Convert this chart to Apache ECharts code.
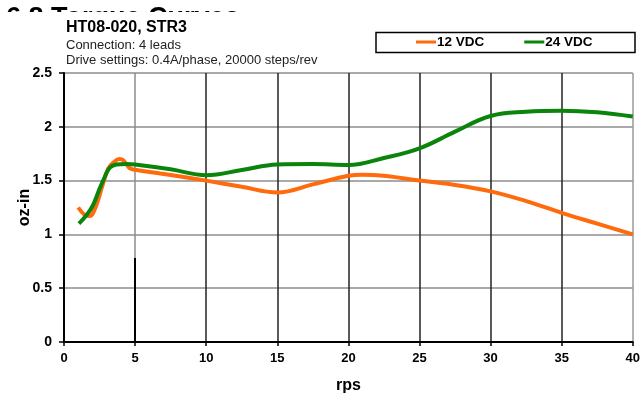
<!DOCTYPE html>
<html>
<head>
<meta charset="utf-8">
<script src="https://cdn.jsdelivr.net/npm/echarts@6/dist/echarts.min.js"></script>
<style>html,body{margin:0;padding:0;background:#fff;}#c{width:643px;height:400px;}</style>
</head>
<body>
<div id="c"></div>
<script>
const pageHeading = '6.8 Torque Curves';
const chartTitle = 'HT08-020, STR3';
const subLine1 = 'Connection: 4 leads';
const subLine2 = 'Drive settings: 0.4A/phase, 20000 steps/rev';
const seriesNames = ['12 VDC', '24 VDC'];
const xTicks = [0, 5, 10, 15, 20, 25, 30, 35, 40];
const yTicks = [0, 0.5, 1, 1.5, 2, 2.5];

const rps12 = [1, 1.47, 1.82, 2.05, 2.4, 2.75, 3.1, 3.45, 3.92, 4.15, 4.43, 4.62, 5, 7.5, 10, 12.5, 15, 17.5, 20, 21, 22.5, 25, 27.5, 30, 32.5, 35, 37.5, 40];
const torque12 = [1.25, 1.18, 1.17, 1.2, 1.32, 1.475, 1.61, 1.665, 1.70, 1.69, 1.645, 1.615, 1.6, 1.552, 1.5, 1.443, 1.39, 1.465, 1.545, 1.555, 1.545, 1.5, 1.46, 1.4, 1.31, 1.2, 1.1, 1.0];

const rps24 = [1.05, 1.59, 2.05, 2.52, 2.87, 3.22, 3.69, 4.39, 5, 7.5, 10, 12.5, 15, 17.5, 20, 22.5, 25, 27.5, 30, 32.5, 35, 37.5, 40];
const torque24 = [1.1, 1.18, 1.275, 1.43, 1.535, 1.62, 1.65, 1.655, 1.65, 1.605, 1.55, 1.598, 1.65, 1.654, 1.645, 1.71, 1.8, 1.955, 2.1, 2.14, 2.15, 2.135, 2.095];

// short dark segment drawn over the x=5 grid line in the original
const stubX = 5;
const stubTop = 0.78;

const pairs = (xs, ys) => xs.map((x, i) => [x, ys[i]]);
const font = 'Liberation Sans, Arial, sans-serif';

const chart = echarts.init(document.getElementById('c'), null, {renderer: 'canvas'});
chart.setOption({
  animation: false,
  backgroundColor: '#fff',
  grid: {left: 64, right: 8, top: 73, bottom: 58, containLabel: false},
  legend: {
    left: 416, top: 35, padding: 0,
    icon: 'rect', itemWidth: 20, itemHeight: 3, itemGap: 40,
    textStyle: {fontFamily: font, fontWeight: 'bold', fontSize: 13.5, color: '#000', padding: [0, 0, 0, -4]},
    data: seriesNames
  },
  xAxis: {
    type: 'value', min: 0, max: 40, interval: 5,
    name: 'rps', nameLocation: 'middle', nameGap: 36, nameMoveOverlap: false,
    nameTextStyle: {fontFamily: font, fontWeight: 'bold', fontSize: 16, color: '#000'},
    axisLine: {show: true, lineStyle: {color: '#000', width: 2}},
    axisTick: {show: true, length: 4, lineStyle: {color: '#000', width: 1.5}},
    axisLabel: {fontFamily: font, fontWeight: 'bold', fontSize: 13, color: '#000', margin: 10,
      formatter: v => xTicks.includes(v) ? String(v) : ''},
    splitLine: {show: true, lineStyle: {width: 1.5, color: ['#000', '#8c8c8c', '#222', '#222', '#222', '#222', '#222', '#222', '#999']}}
  },
  yAxis: {
    type: 'value', min: 0, max: 2.5, interval: 0.5,
    name: 'oz-in', nameLocation: 'middle', nameGap: 31, nameRotate: 90, nameMoveOverlap: false,
    nameTextStyle: {fontFamily: font, fontWeight: 'bold', fontSize: 16, color: '#000'},
    axisLine: {show: true, lineStyle: {color: '#000', width: 2}},
    axisTick: {show: true, length: 5, lineStyle: {color: '#000', width: 1.5}},
    axisLabel: {fontFamily: font, fontWeight: 'bold', fontSize: 14, color: '#000', margin: 12,
      formatter: v => yTicks.includes(v) ? String(v) : ''},
    splitLine: {show: true, lineStyle: {width: 1.5, color: '#8c8c8c'}}
  },
  series: [
    {
      name: seriesNames[0], type: 'line', data: pairs(rps12, torque12),
      smooth: 0.4, showSymbol: false, symbol: 'none',
      lineStyle: {color: '#ff6a0d', width: 4}, itemStyle: {color: '#ff6a0d'},
      markLine: {
        silent: true, symbol: 'none', label: {show: false},
        lineStyle: {color: '#000', width: 2, type: 'solid'},
        data: [[{coord: [stubX, 0]}, {coord: [stubX, stubTop]}]]
      }
    },
    {
      name: seriesNames[1], type: 'line', data: pairs(rps24, torque24),
      smooth: 0.4, showSymbol: false, symbol: 'none',
      lineStyle: {color: '#0a840a', width: 4}, itemStyle: {color: '#0a840a'}
    }
  ],
  graphic: [
    {type: 'text', left: 6, top: 5, z: 10,
      style: {text: pageHeading, fontFamily: font, fontWeight: 'bold', fontSize: 27, fill: '#000'}},
    {type: 'rect', shape: {x: 0, y: 12, width: 300, height: 30}, z: 11, style: {fill: '#fff'}},
    {type: 'text', left: 66, top: 20, z: 12,
      style: {text: chartTitle, fontFamily: font, fontWeight: 'bold', fontSize: 16, fill: '#000'}},
    {type: 'text', left: 66, top: 38.5, z: 12,
      style: {text: subLine1, fontFamily: font, fontSize: 13, fill: '#222'}},
    {type: 'text', left: 66, top: 54, z: 12,
      style: {text: subLine2, fontFamily: font, fontSize: 13, fill: '#222'}},
    {type: 'rect', shape: {x: 376, y: 32.5, width: 259, height: 20}, z: 0,
      style: {fill: 'none', stroke: '#000', lineWidth: 1.5}}
  ]
});
</script>
</body>
</html>
